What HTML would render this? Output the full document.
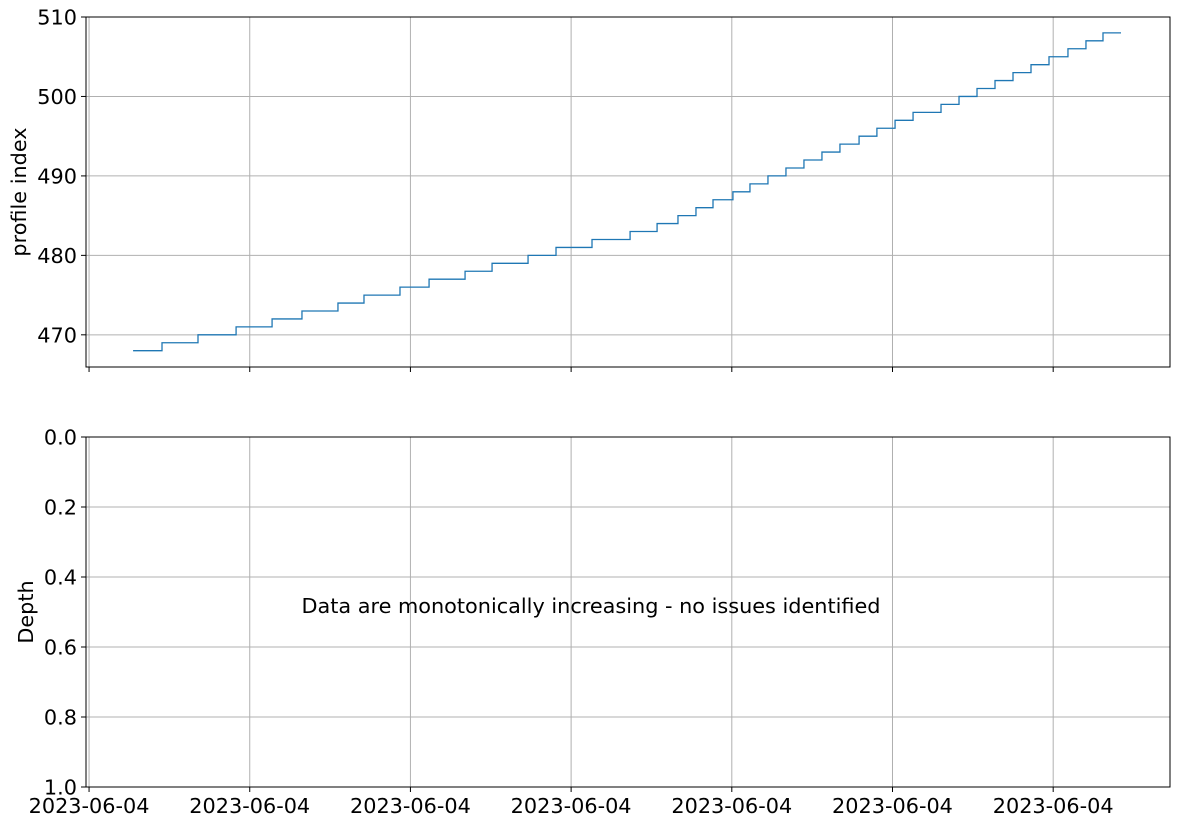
<!DOCTYPE html>
<html><head><meta charset="utf-8"><style>
body{margin:0;background:#fff;}
text{font-family:"DejaVu Sans","Liberation Sans",sans-serif;fill:#000;}
</style></head><body>
<svg id="chart" width="1180" height="827" xmlns="http://www.w3.org/2000/svg"></svg>
<script>
const times=[2.74,4.54,6.78,9.15,11.39,13.25,15.49,17.11,19.35,21.16,23.40,25.08,27.32,29.06,31.30,33.67,35.35,36.65,37.77,38.83,40.07,41.13,42.25,43.37,44.49,45.61,46.73,47.92,49.03,50.16,51.28,53.02,54.14,55.26,56.38,57.50,58.62,59.74,60.92,62.04,63.10,64.22];
const profileIdx=[468,469,470,471,472,473,474,475,476,477,478,479,480,481,482,483,484,485,486,487,488,489,490,491,492,493,494,495,496,497,498,499,500,501,502,503,504,505,506,507,508];
const xTicks=[0,10,20,30,40,50,60];
const xTickLabels=["2023-06-04","2023-06-04","2023-06-04","2023-06-04","2023-06-04","2023-06-04","2023-06-04"];
const yTicksTop=[470,480,490,500,510];
const yTicksBot=[0,0.2,0.4,0.6,0.8,1.0];
const yTickLabelsBot=["0.0","0.2","0.4","0.6","0.8","1.0"];

const svg=document.getElementById('chart');
const NS='http://www.w3.org/2000/svg';
const FS=20.8;
function mk(tag,attrs,name,parent){const e=document.createElementNS(NS,tag);for(const k in attrs)e.setAttribute(k,attrs[k]);


(parent||svg).appendChild(e);return e;}
const L=86,R=1170;
const x=t=>L+(t-(-0.19))/(67.27-(-0.19))*(R-L);
const T0=17,T1=367,yT=v=>T0+(510-v)/(510-465.95)*(T1-T0);
const B0=437,B1=787,yB=v=>B0+v*(B1-B0);

xTicks.forEach((t,i)=>{mk('line',{x1:x(t),x2:x(t),y1:T0,y2:T1,stroke:'#b0b0b0','stroke-width':1},'top-x-grid-'+i);
mk('line',{x1:x(t),x2:x(t),y1:T1,y2:T1+5,stroke:'#000'},'top-x-tick-'+i);});
yTicksTop.forEach((v,i)=>{mk('line',{x1:L,x2:R,y1:yT(v),y2:yT(v),stroke:'#b0b0b0'},'top-y-grid-'+i);
mk('line',{x1:L-5,x2:L,y1:yT(v),y2:yT(v),stroke:'#000'},'top-y-tick-'+i);
const t=mk('text',{x:L-9,y:yT(v)+7.5,'text-anchor':'end','font-size':FS},'top-y-tick-label-'+i);t.textContent=v;});
let d='';
profileIdx.forEach((v,i)=>{d+=(i?'L':'M')+x(times[i])+','+yT(v)+'L'+x(times[i+1])+','+yT(v);});
mk('path',{d:d,fill:'none',stroke:'#1f77b4','stroke-width':1.3},'profile-index-step-line');
mk('rect',{x:L,y:T0,width:R-L,height:T1-T0,fill:'none',stroke:'#000','stroke-width':1},'top-axes-frame');
let yl=mk('text',{x:0,y:0,transform:'translate(26,192) rotate(-90)','text-anchor':'middle','font-size':FS},'top-y-axis-title');yl.textContent='profile index';

xTicks.forEach((t,i)=>{mk('line',{x1:x(t),x2:x(t),y1:B0,y2:B1,stroke:'#b0b0b0'},'bottom-x-grid-'+i);
mk('line',{x1:x(t),x2:x(t),y1:B1,y2:B1+5,stroke:'#000'},'bottom-x-tick-'+i);
const tx=mk('text',{x:x(t),y:813,'text-anchor':'middle','font-size':FS},'x-tick-label-'+i);tx.textContent=xTickLabels[i];});
yTicksBot.forEach((v,i)=>{mk('line',{x1:L,x2:R,y1:yB(v),y2:yB(v),stroke:'#b0b0b0'},'bottom-y-grid-'+i);
mk('line',{x1:L-5,x2:L,y1:yB(v),y2:yB(v),stroke:'#000'},'bottom-y-tick-'+i);
const t=mk('text',{x:L-9,y:yB(v)+7.5,'text-anchor':'end','font-size':FS},'bottom-y-tick-label-'+i);t.textContent=yTickLabelsBot[i];});
mk('rect',{x:L,y:B0,width:R-L,height:B1-B0,fill:'none',stroke:'#000'},'bottom-axes-frame');
let msg=mk('text',{x:591,y:613,'text-anchor':'middle','font-size':FS},'status-message');msg.textContent='Data are monotonically increasing - no issues identified';
let dl=mk('text',{x:0,y:0,transform:'translate(33,612) rotate(-90)','text-anchor':'middle','font-size':FS},'bottom-y-axis-title');dl.textContent='Depth';
</script>
</body></html>
